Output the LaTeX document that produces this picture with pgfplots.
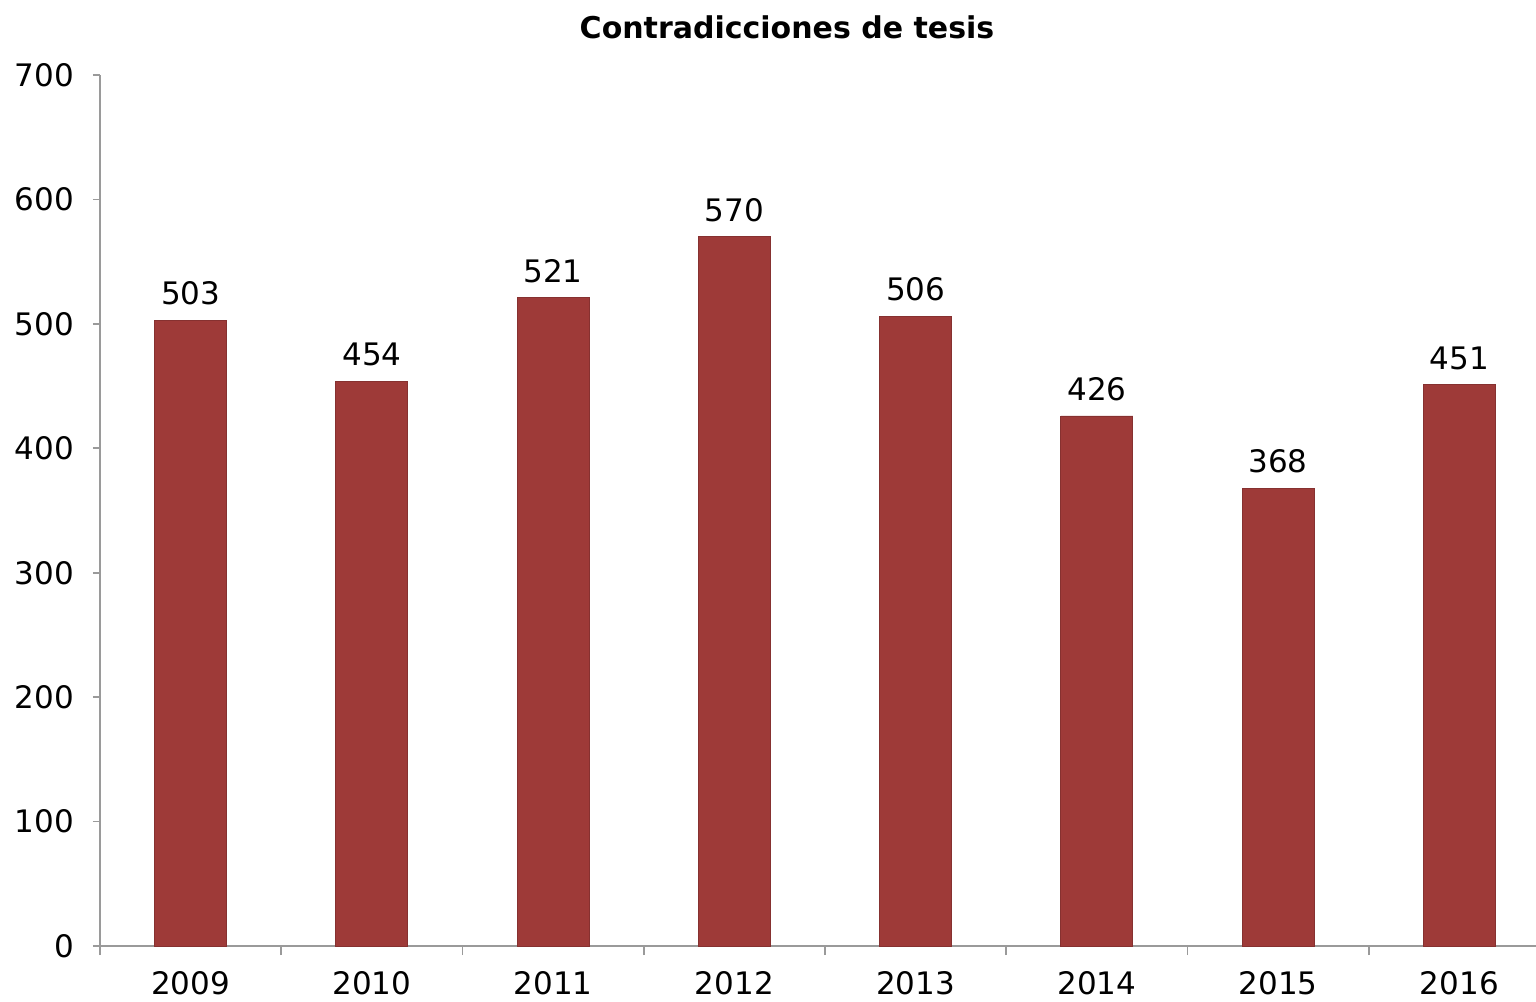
\documentclass[border=0pt]{standalone}
\usepackage{fontspec}
\setmainfont{DejaVu Sans}
\usepackage{pgfplots}
\pgfplotsset{compat=1.18}
\definecolor{barred}{HTML}{9E3A38}
\definecolor{axgray}{HTML}{9A9A9A}
\begin{document}
\begin{tikzpicture}
\useasboundingbox (-50pt,-27.5pt) rectangle (718pt,473pt);
\begin{axis}[
  scale only axis,
  width=725pt, height=435.5pt,
  xmin=-0.5, xmax=7.5,
  ymin=0, ymax=700,
  ytick={0,100,...,700},
  xtick={0,...,7},
  xticklabels={2009,2010,2011,2012,2013,2014,2015,2016},
  minor xtick={-0.5,0.5,...,6.5},
  axis x line*=bottom, axis y line*=left,
  axis line style={-, draw=axgray, line width=0.8pt},
  tick align=outside,
  major x tick style={draw=none},
  minor x tick style={draw=axgray, line width=0.8pt},
  major y tick style={draw=axgray, line width=0.8pt},
  major tick length=3.5pt,
  minor tick length=4.5pt,
  tick label style={font=\fontsize{15.5}{18}\selectfont},
  /pgf/number format/assume math mode=true,
  xticklabel style={yshift=-5.5pt},
  yticklabel style={xshift=-6pt},
  ybar, bar width=36pt,
  nodes near coords,
  every node near coord/.append style={font=\fontsize{15.5}{18}\selectfont, yshift=4pt},
  clip=false,
]
\addplot[fill=barred, draw=barred!85!black, line width=0.4pt] coordinates {
 (0,503) (1,454) (2,521) (3,570) (4,506) (5,426) (6,368) (7,451)
};
\end{axis}
\node[font=\bfseries\fontsize{15}{18}\selectfont] at (343.5pt,459.5pt) {Contradicciones de tesis};
\end{tikzpicture}
\end{document}
